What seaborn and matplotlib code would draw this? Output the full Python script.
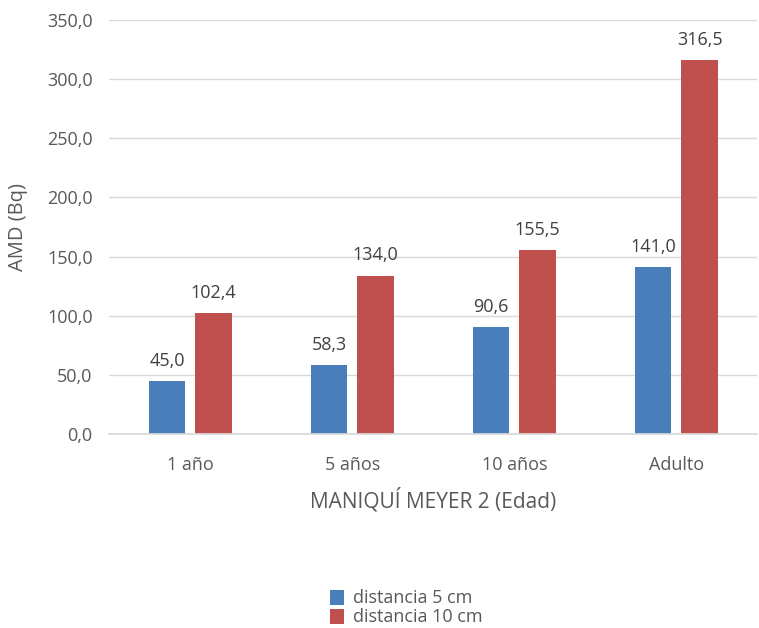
import matplotlib
matplotlib.use("Agg")
import matplotlib.pyplot as plt
import seaborn as sns
import pandas as pd
from matplotlib.patches import Patch

categories = ["1 año", "5 años", "10 años", "Adulto"]
series_names = ["distancia 5 cm", "distancia 10 cm"]
dist5 = [45.0, 58.3, 90.6, 141.0]
dist10 = [102.4, 134.0, 155.5, 316.5]
yticks = [0, 50, 100, 150, 200, 250, 300, 350]

df = pd.DataFrame({
    "Edad": categories * 2,
    "Serie": [series_names[0]] * 4 + [series_names[1]] * 4,
    "AMD": dist5 + dist10,
})

sns.set_theme(style="white")
plt.rcParams["font.family"] = ["Open Sans", "DejaVu Sans"]

colors = ["#4A7EBB", "#C0504D"]
fig = plt.figure(figsize=(7.59, 6.28), dpi=100)
ax = fig.add_axes([0.144, 0.309, 0.854, 0.659])

sns.barplot(data=df, x="Edad", y="AMD", hue="Serie", palette=colors,
            width=0.573, gap=0.215, ax=ax, legend=False, saturation=1,
            linewidth=0)

ax.set_ylim(0, 350)
ax.set_yticks(yticks)
ax.set_yticklabels([f"{v:.1f}".replace(".", ",") for v in yticks])
ax.yaxis.grid(True, color="#D9D9D9", linewidth=1)
ax.set_axisbelow(True)
for s in ["top", "right", "left"]:
    ax.spines[s].set_visible(False)
ax.spines["bottom"].set_color("#D9D9D9")
ax.tick_params(axis="both", length=0, labelsize=13, colors="#595959", pad=12)
ax.tick_params(axis="x", pad=16)

for cont in ax.containers:
    ax.bar_label(cont, labels=[f"{v:.1f}".replace(".", ",") for v in cont.datavalues],
                 padding=8, fontsize=13, color="#404040")

ax.set_xlabel("MANIQUÍ MEYER 2 (Edad)", fontsize=15, color="#595959", labelpad=10)
ax.set_ylabel("AMD (Bq)", fontsize=14.5, color="#595959", labelpad=14)

handles = [Patch(facecolor=c, edgecolor="none") for c in colors]
fig.legend(handles, series_names, loc="center", bbox_to_anchor=(0.535, 0.032),
           frameon=False, fontsize=13, labelcolor="#595959",
           handlelength=0.8, handleheight=0.9, handletextpad=0.5, labelspacing=0.05)

fig.savefig("out.png", dpi=100, facecolor="white")
